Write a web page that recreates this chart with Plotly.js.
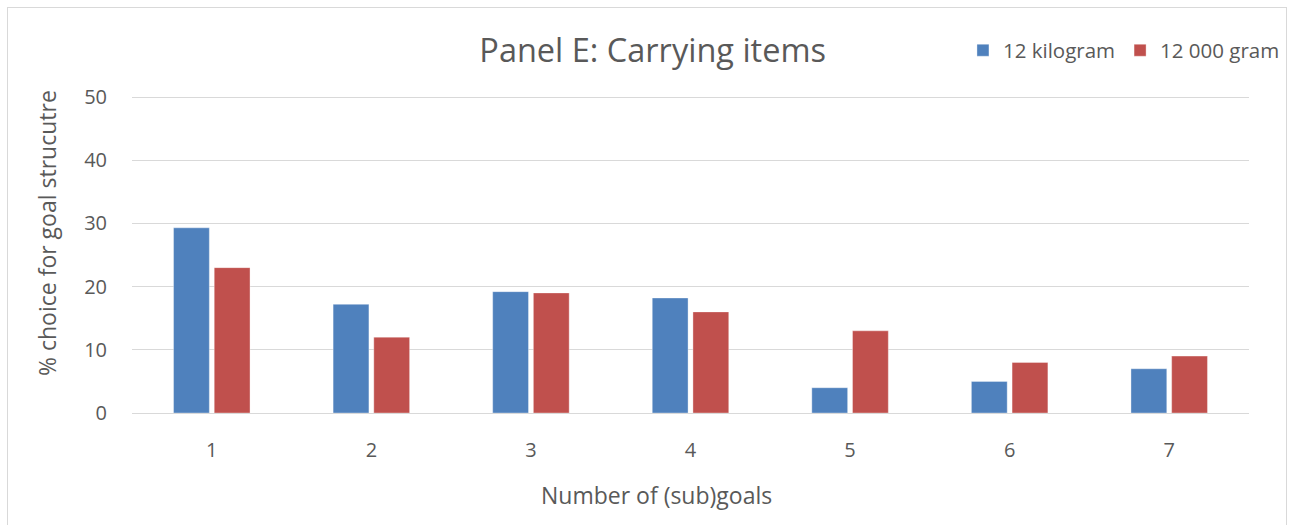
<!DOCTYPE html>
<html>
<head>
<meta charset="utf-8">
<script src="https://cdn.plot.ly/plotly-3.0.1.min.js"></script>
<style>
  html, body { margin: 0; padding: 0; background: #fff; }
  #frame { position: absolute; left: 7px; top: 7px; width: 1280px; height: 540px; border: 1px solid #d9d9d9; box-sizing: border-box; }
  #chart { position: absolute; left: 0; top: 0; width: 1295px; height: 525px; }
</style>
</head>
<body>
<div id="frame"></div>
<div id="chart"></div>
<script>
const categories = ["1", "2", "3", "4", "5", "6", "7"];
const kilogram = [29.3, 17.2, 19.2, 18.2, 4, 5, 7];
const gram = [23, 12, 19, 16, 13, 8, 9];
const seriesNames = ["12 kilogram", "12 000 gram"];
const yTicks = [0, 10, 20, 30, 40, 50];
const xTitle = "Number of (sub)goals";
const yTitle = "% choice for goal strucutre";

const FONT = "'Open Sans', sans-serif";
const TXT = "#595959";

const W = 1295, H = 525;
const M = { l: 132, r: 46, t: 97, b: 112 };
const plotW = W - M.l - M.r, plotH = H - M.t - M.b;

const traces = [
  { type: "bar", x: categories, y: kilogram, name: seriesNames[0],
    marker: { color: "#4f81bd", line: { color: "rgba(255,255,255,0.35)", width: 1 } } },
  { type: "bar", x: categories, y: gram, name: seriesNames[1],
    marker: { color: "#c0504d", line: { color: "rgba(255,255,255,0.35)", width: 1 } } }
];

const yMax = yTicks[yTicks.length - 1];
const halfPx = 0.5 * yMax / plotH;

const layout = {
  width: W, height: H,
  margin: Object.assign({ autoexpand: false }, M),
  paper_bgcolor: "rgba(0,0,0,0)",
  plot_bgcolor: "#fff",
  barmode: "group",
  bargap: 0.49,
  bargroupgap: 0.12,
  font: { family: FONT, color: TXT, size: 20 },
  title: { text: "Panel E: Carrying items", font: { family: FONT, size: 32.5, color: TXT },
           xref: "container", x: 0.504, xanchor: "center", yref: "container", y: 0.903, yanchor: "middle" },
  showlegend: true,
  legend: { orientation: "h", xref: "container", x: 0.7436, xanchor: "left", yref: "container", y: 0.904, yanchor: "middle",
            font: { family: FONT, size: 20.5, color: TXT }, bgcolor: "rgba(0,0,0,0)", traceorder: "normal" },
  shapes: [
    { type: "line", xref: "paper", x0: 0, x1: 1, yref: "y", y0: yMax - halfPx, y1: yMax - halfPx,
      line: { color: "#d9d9d9", width: 1 }, layer: "below" }
  ],
  annotations: [
    { text: xTitle, xref: "paper", yref: "paper", x: (656 - M.l) / plotW, y: -(495 - (H - M.b)) / plotH,
      xanchor: "center", yanchor: "middle", showarrow: false, font: { family: FONT, size: 23, color: TXT } },
    { text: yTitle, xref: "paper", yref: "paper", x: (47 - M.l) / plotW, y: ((H - M.b) - 233) / plotH,
      xanchor: "center", yanchor: "middle", textangle: -90, showarrow: false, font: { family: FONT, size: 23, color: TXT } }
  ],
  xaxis: {
    type: "category",
    showgrid: false,
    showline: true, linecolor: "#d9d9d9", linewidth: 1,
    ticks: "outside", ticklen: 19, tickcolor: "rgba(0,0,0,0)",
    tickfont: { family: FONT, size: 20, color: TXT }
  },
  yaxis: {
    range: [0, yMax],
    tickvals: yTicks,
    showgrid: true, gridcolor: "#d9d9d9", gridwidth: 1,
    zeroline: false,
    showline: false,
    ticks: "outside", ticklen: 20, tickcolor: "rgba(0,0,0,0)",
    tickfont: { family: FONT, size: 20, color: TXT }
  }
};

Plotly.newPlot("chart", traces, layout, { displayModeBar: false, staticPlot: true });
</script>
</body>
</html>
